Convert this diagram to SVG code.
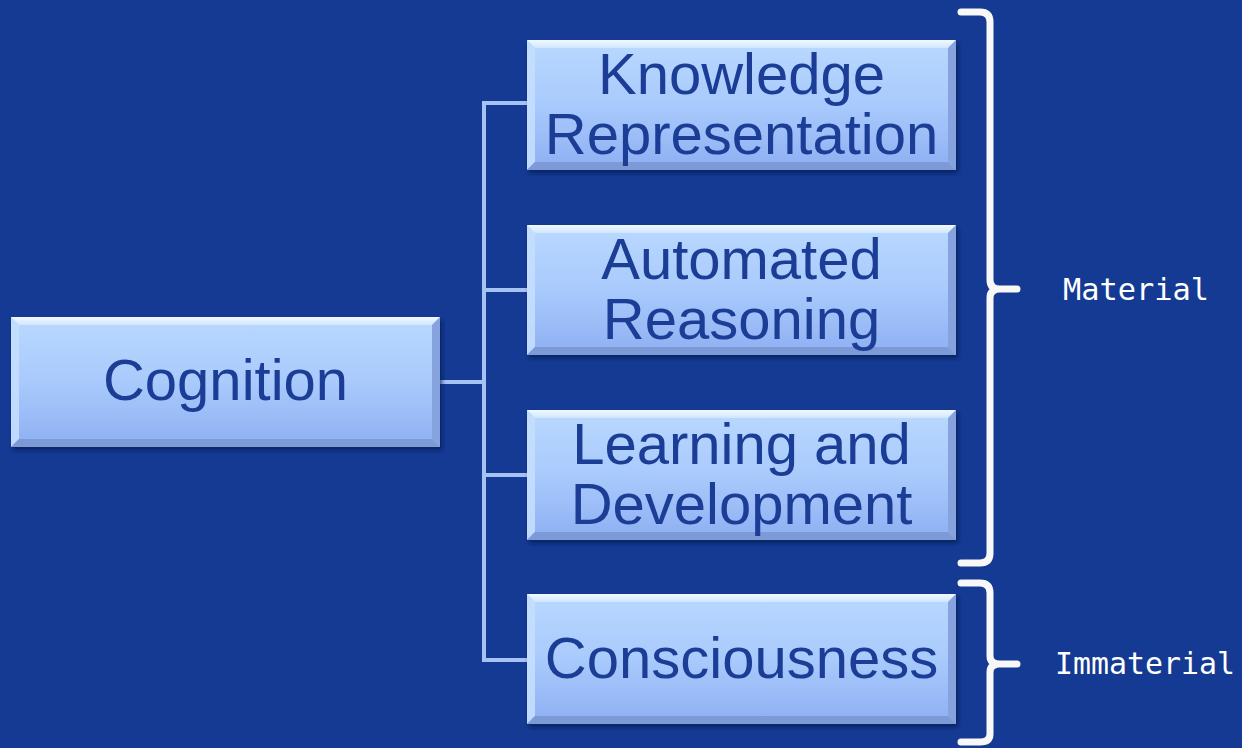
<svg xmlns="http://www.w3.org/2000/svg" xmlns:xlink="http://www.w3.org/1999/xlink" width="1242" height="748" viewBox="0 0 1242 748">
<defs>
<linearGradient id="face" x1="0" y1="0" x2="0" y2="1">
<stop offset="0" stop-color="#b9d9ff"/>
<stop offset="0.5" stop-color="#a9cafc"/>
<stop offset="1" stop-color="#8eaff2"/>
</linearGradient>
<linearGradient id="topb" x1="0" y1="0" x2="0" y2="1">
<stop offset="0" stop-color="#f2f9ff"/>
<stop offset="1" stop-color="#cfe6ff"/>
</linearGradient>
<filter id="sh" x="-5%" y="-10%" width="115%" height="130%">
<feGaussianBlur in="SourceAlpha" stdDeviation="2"/>
<feOffset dx="2" dy="3" result="b"/>
<feFlood flood-color="#061a4a" flood-opacity="0.7"/>
<feComposite in2="b" operator="in"/>
<feMerge><feMergeNode/><feMergeNode in="SourceGraphic"/></feMerge>
</filter>
<g id="box">
<rect x="0" y="0" width="429" height="130" fill="url(#face)"/>
<polygon points="0,0 429,0 421,8 8,8" fill="url(#topb)"/>
<polygon points="0,0 8,8 8,122 0,130" fill="#c4defd" opacity="0.9"/>
<polygon points="429,0 429,130 421,122 421,8" fill="#86a3de"/>
<polygon points="0,130 8,122 421,122 429,130" fill="#7e9ad6"/>
</g>
</defs>
<style>
.lbl{font-family:"Liberation Sans",Arial,sans-serif;font-size:58px;fill:#1b3d96;text-anchor:middle}
.side{font-family:"DejaVu Sans Mono",monospace;font-size:30px;fill:#ffffff}
.conn{fill:none;stroke:#a6c2f4;stroke-width:4}
.brace{fill:none;stroke:#f8f8f8;stroke-width:7;stroke-linecap:round;stroke-linejoin:round}
</style>
<rect width="1242" height="748" fill="#143a93"/>
<g id="connectors">
<path class="conn" d="M440,382 H484 M527,103 H484 V660 H527 M484,290 H527 M484,475 H527"/>
</g>
<g id="cognition">
<use xlink:href="#box" x="11" y="317" filter="url(#sh)"/>
<text class="lbl" x="225.5" y="400">Cognition</text>
</g>
<g id="knowledge-representation">
<use xlink:href="#box" x="527" y="40" filter="url(#sh)"/>
<text class="lbl" x="741.5" y="94">Knowledge</text>
<text class="lbl" x="741.5" y="154">Representation</text>
</g>
<g id="automated-reasoning">
<use xlink:href="#box" x="527" y="225" filter="url(#sh)"/>
<text class="lbl" x="741.5" y="279">Automated</text>
<text class="lbl" x="741.5" y="339">Reasoning</text>
</g>
<g id="learning-development">
<use xlink:href="#box" x="527" y="410" filter="url(#sh)"/>
<text class="lbl" x="741.5" y="464">Learning and</text>
<text class="lbl" x="741.5" y="524">Development</text>
</g>
<g id="consciousness">
<use xlink:href="#box" x="527" y="594" filter="url(#sh)"/>
<text class="lbl" x="741.5" y="678">Consciousness</text>
</g>
<g id="material">
<path class="brace" d="M961,12 H980 Q990,12 990,22 V280 Q990,289 1000,289 H1017 M1000,289 Q990,289 990,298 V553 Q990,563 980,563 H961"/>
<text class="side" x="1063" y="300" textLength="146" lengthAdjust="spacingAndGlyphs">Material</text>
</g>
<g id="immaterial">
<path class="brace" d="M961,583 H980 Q990,583 990,593 V656 Q990,664 1000,664 H1017 M1000,664 Q990,664 990,672 V734 Q990,742 980,742 H961"/>
<text class="side" x="1055" y="674" textLength="180" lengthAdjust="spacingAndGlyphs">Immaterial</text>
</g>
</svg>
